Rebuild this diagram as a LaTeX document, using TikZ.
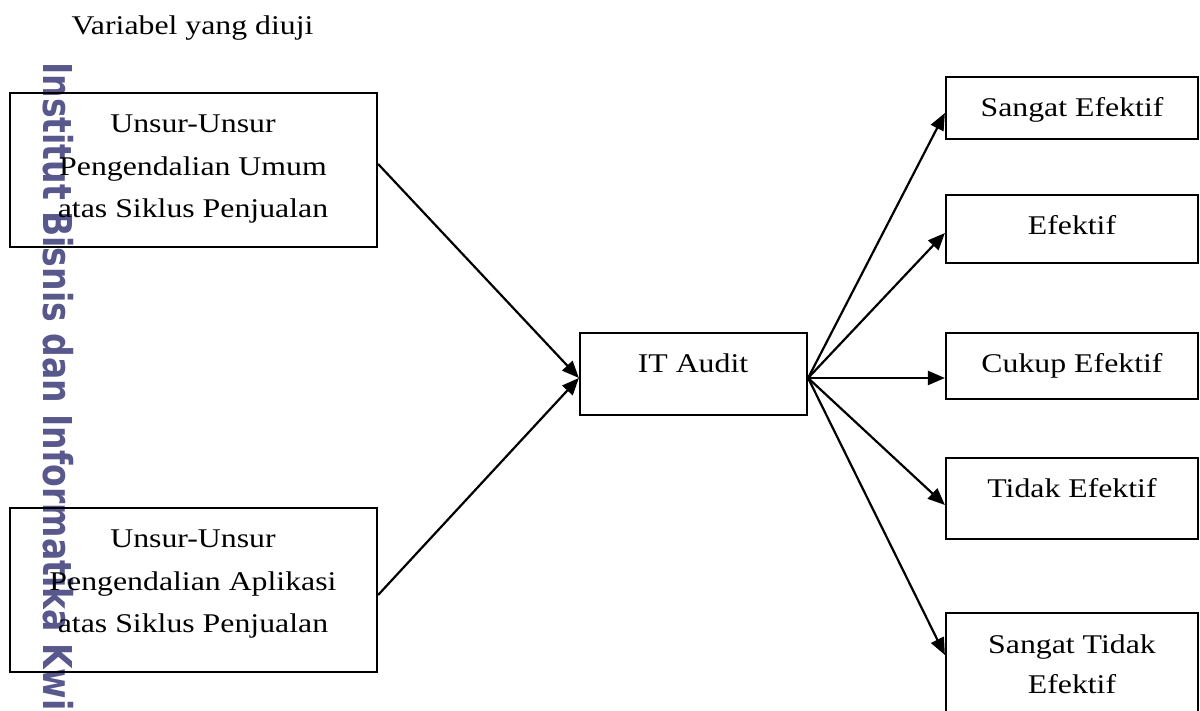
\documentclass[tikz,border=0pt]{standalone}
\usepackage{fontspec}
\setmainfont{Liberation Serif}
\newfontfamily\wmfont{DejaVu Sans}
\usepackage{graphicx}
\usetikzlibrary{arrows.meta}
\newcommand{\sqz}[1]{\scalebox{1}[0.85]{#1}}
\definecolor{wm}{RGB}{88,88,140}
\begin{document}
\begin{tikzpicture}[x=1pt,y=-1pt,
  box/.style={draw, line width=2.2pt, rectangle, inner sep=0pt},
  lbl/.style={inner sep=0pt, anchor=base, font=\fontsize{31.8pt}{38pt}\selectfont},
  arr/.style={-{Triangle[length=17pt,width=14pt]}, line width=2.2pt}]
\useasboundingbox (0,0) rectangle (1200,711);
\clip (0,0) rectangle (1200,711);
\fill[white] (0,0) rectangle (1200,711);
% watermark
\node[rotate=-90, anchor=base west, inner sep=0pt, text=wm,
  font=\wmfont\bfseries\fontsize{39.8pt}{40pt}\selectfont] (wm) at (43,62)
  {\scalebox{0.83}[1]{Institut Bisnis dan Informatika Kwik Kian Gie}};
% title
\node[lbl] (title) at (192.5,35) {\sqz{Variabel yang diuji}};
% left boxes
\node[box, minimum width=367pt, minimum height=154pt] (b1) at (193.5,170) {};
\node[lbl] (b1a) at (193,133) {\sqz{Unsur-Unsur}};
\node[lbl] (b1b) at (193,176) {\sqz{Pengendalian Umum}};
\node[lbl] (b1c) at (193,218) {\sqz{atas Siklus Penjualan}};
\node[box, minimum width=367pt, minimum height=164pt] (b2) at (193.5,590) {};
\node[lbl] (b2a) at (193,547) {\sqz{Unsur-Unsur}};
\node[lbl] (b2b) at (193,590) {\sqz{Pengendalian Aplikasi}};
\node[lbl] (b2c) at (193,632) {\sqz{atas Siklus Penjualan}};
% centre box
\node[box, minimum width=227pt, minimum height=82pt] (it) at (693.5,374) {};
\node[lbl] (itt) at (693,373) {\sqz{IT Audit}};
% right boxes
\node[box, minimum width=252pt, minimum height=62pt] (se) at (1072,108) {};
\node[lbl] (set) at (1072,117) {\sqz{Sangat Efektif}};
\node[box, minimum width=252pt, minimum height=68pt] (ef) at (1072,229) {};
\node[lbl] (eft) at (1072,235) {\sqz{Efektif}};
\node[box, minimum width=252pt, minimum height=66pt] (ce) at (1072,366) {};
\node[lbl] (cet) at (1072,373) {\sqz{Cukup Efektif}};
\node[box, minimum width=252pt, minimum height=81pt] (te) at (1072,498.5) {};
\node[lbl] (tet) at (1072,497) {\sqz{Tidak Efektif}};
\node[box, minimum width=252pt, minimum height=127pt] (ste) at (1072,676.5) {};
\node[lbl] (stea) at (1072,653) {\sqz{Sangat Tidak}};
\node[lbl] (steb) at (1072,693) {\sqz{Efektif}};
% arrows
\draw[arr] ([yshift=6pt]b1.east) -- ([yshift=-4pt]it.west);
\draw[arr] ([yshift=-5pt]b2.east) -- ([yshift=-4pt]it.west);
\draw[arr] ([yshift=-4pt]it.east) -- ([yshift=-5pt]se.west);
\draw[arr] ([yshift=-4pt]it.east) -- ([yshift=-4pt]ef.west);
\draw[arr] ([yshift=-4pt]it.east) -- ([yshift=-12pt]ce.west);
\draw[arr] ([yshift=-4pt]it.east) -- ([yshift=-6.5pt]te.west);
\draw[arr] ([yshift=-4pt]it.east) -- ([yshift=21.5pt]ste.west);
\end{tikzpicture}
\end{document}
